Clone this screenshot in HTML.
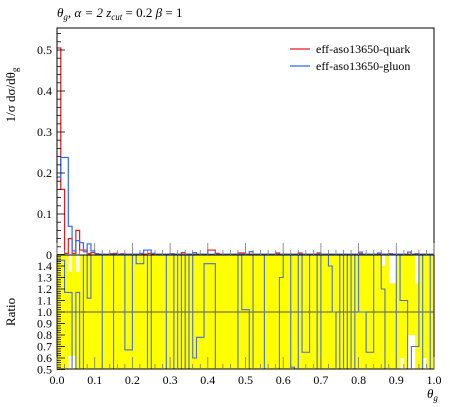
<!DOCTYPE html>
<html><head><meta charset="utf-8">
<style>
html,body{margin:0;padding:0;background:#fff;}
svg{display:block;font-family:"Liberation Serif",serif;}
</style></head>
<body>
<svg id="chart" width="450" height="407" viewBox="0 0 450 407">
  <text x="57" y="17" font-size="13" font-style="italic">θ<tspan font-size="9" dy="3">g</tspan><tspan dy="-3">, α = 2 z</tspan><tspan font-size="9" dy="3">cut</tspan><tspan dy="-3" font-style="normal"> = 0.2 </tspan><tspan>β</tspan><tspan font-style="normal"> = 1</tspan></text>
  <text transform="translate(15,95) rotate(-90)" text-anchor="middle" font-size="13">1/σ dσ/dθ<tspan font-size="9" dy="3">g</tspan></text>
  <text transform="translate(15,312) rotate(-90)" text-anchor="middle" font-size="13">Ratio</text>
  <text x="427" y="398" font-size="13" font-style="italic">θ<tspan font-size="9" dy="3">g</tspan></text>
  <g id="ratioG"></g>
  <g id="mainG"></g>
  <g>
    <line x1="290" y1="49" x2="310" y2="49" stroke="#e41a1c" stroke-width="1.3"/>
    <text x="316" y="53" font-size="12">eff-aso13650-quark</text>
    <line x1="290" y1="66" x2="310" y2="66" stroke="#3366ff" stroke-width="1.3"/>
    <text x="316" y="70" font-size="12">eff-aso13650-gluon</text>
  </g>
</svg>
<script>
const quark = [0.505,0.16,0.004,0.04,0.004,0.06,0.012,0.012,0.003,0.006,0.003,0.002,0.002,0.002,0.003,0.004,0.002,0.003,0.002,0.002,0.002,0.002,0.003,0.002,0.004,0.002,0.002,0.002,0.002,0.002,0.003,0.002,0.002,0.006,0.002,0.002,0.002,0.002,0.002,0.002,0.012,0.012,0.004,0.002,0.002,0.002,0.002,0.002,0.005,0.005,0.002,0.002,0.002,0.002,0.002,0.002,0.002,0.002,0.005,0.002,0.002,0.002,0.002,0.002,0.005,0.002,0.002,0.002,0.002,0.005,0.002,0.002,0.002,0.002,0.002,0.002,0.002,0.002,0.002,0.002,0.003,0.002,0.002,0.002,0.002,0.002,0.002,0.002,0.003,0.002,0.002,0.002,0.002,0.002,0.002,0.003,0.002,0.002,0.002,0.002];
const gluon = [0.19,0.238,0.238,0.07,0.01,0.035,0.03,0.008,0.027,0.01,0.003,0.002,0.002,0.002,0.002,0.002,0.002,0.002,0.002,0.002,0.002,0.002,0.004,0.012,0.012,0.004,0.002,0.002,0.002,0.002,0.002,0.002,0.002,0.002,0.002,0.002,0.006,0.002,0.002,0.002,0.002,0.002,0.002,0.002,0.002,0.002,0.002,0.002,0.002,0.002,0.002,0.008,0.002,0.002,0.002,0.002,0.002,0.002,0.002,0.002,0.002,0.002,0.002,0.002,0.002,0.002,0.002,0.002,0.002,0.002,0.002,0.002,0.002,0.002,0.002,0.002,0.002,0.002,0.002,0.002,0.007,0.002,0.002,0.002,0.002,0.005,0.002,0.002,0.002,0.002,0.002,0.002,0.002,0.007,0.002,0.002,0.002,0.002,0.002,0.002];
const ratio = [1.45,1.45,1.17,1.17,0.3,1.17,0.3,2,1.12,2,2,2,0.3,0.3,0.3,2,2,2,0.67,0.67,2,1.42,1.42,2,0.3,2,2,2,2,0.3,0.3,2,0.3,2,0.3,2,0.6,0.78,0.78,1.42,1.42,1.42,0.3,0.3,0.3,0.3,0.3,0.3,2,1.02,1.02,0.3,2,2,2,0.3,0.3,0.3,0.3,1.3,2,2,0.52,0.3,2,0.65,0.65,2,2,0.3,2,2,1.4,1.0,0.3,2,0.3,2,0.3,2,1.0,1.0,0.65,0.65,2,2,1.2,0.3,0.3,0.3,2,1.1,1.1,0.3,0.7,0.7,2,0.3,0.3,2];
const bandHi = [1.5,1.5,1.5,1.35,1.5,1.35,1.5,1.5,1.5,1.5,1.5,1.5,1.5,1.5,1.5,1.5,1.5,1.5,1.5,1.5,1.5,1.5,1.5,1.5,1.5,1.5,1.5,1.5,1.5,1.5,1.5,1.5,1.5,1.5,1.5,1.5,1.5,1.5,1.5,1.5,1.5,1.5,1.5,1.5,1.5,1.5,1.5,1.5,1.5,1.5,1.5,1.5,1.5,1.5,1.5,1.5,1.5,1.5,1.5,1.5,1.5,1.5,1.5,1.5,1.5,1.5,1.5,1.5,1.5,1.5,1.5,1.5,1.5,1.5,1.5,1.5,1.5,1.5,1.5,1.5,1.5,1.5,1.5,1.5,1.5,1.5,1.4,1.5,1.25,1.25,1.5,1.5,1.5,1.5,1.5,1.25,1.5,1.5,1.5,1.5];
const bandLo = [0.5,0.5,0.5,0.62,0.62,0.5,0.5,0.5,0.5,0.5,0.5,0.5,0.5,0.5,0.5,0.5,0.5,0.5,0.5,0.5,0.5,0.5,0.5,0.5,0.5,0.5,0.5,0.5,0.5,0.5,0.5,0.5,0.5,0.5,0.5,0.5,0.5,0.5,0.5,0.5,0.5,0.5,0.5,0.5,0.5,0.5,0.5,0.5,0.5,0.5,0.5,0.5,0.5,0.5,0.5,0.5,0.5,0.5,0.5,0.5,0.5,0.5,0.5,0.5,0.5,0.5,0.5,0.5,0.5,0.5,0.5,0.5,0.5,0.5,0.5,0.5,0.5,0.5,0.5,0.5,0.5,0.5,0.5,0.5,0.5,0.5,0.5,0.5,0.5,0.5,0.5,0.6,0.5,0.8,0.8,0.5,0.5,0.6,0.5,0.5];
const xTicks = [0,0.1,0.2,0.3,0.4,0.5,0.6,0.7,0.8,0.9,1.0];
const yTicks = [0,0.1,0.2,0.3,0.4,0.5];
const rTicks = [0.5,0.6,0.7,0.8,0.9,1.0,1.1,1.2,1.3,1.4];

const NS="http://www.w3.org/2000/svg";
const X0=57,X1=434, TOP=28, MB=255, RB=369;
const xs=v=>X0+(X1-X0)*v;
const ys=v=>MB-410*v;
const yr=v=>312-115*(v-1);
function mk(tag,attrs,parent){const e=document.createElementNS(NS,tag);for(const k in attrs)e.setAttribute(k,attrs[k]);parent.appendChild(e);return e;}
const mainG=document.getElementById('mainG'), ratioG=document.getElementById('ratioG');
const nb=quark.length, bw=1/nb;

const defs=mk('defs',{},document.getElementById('chart'));
const cp=mk('clipPath',{id:'rclip'},defs);
mk('rect',{x:X0,y:MB,width:X1-X0,height:RB-MB},cp);

for(let i=0;i<nb;i++){
  const hi=Math.min(bandHi[i],1.5), lo=Math.max(bandLo[i],0.5);
  const r=mk('rect',{x:xs(i*bw),y:yr(hi),width:xs((i+1)*bw)-xs(i*bw)+0.3,height:yr(lo)-yr(hi),fill:'#ffff00'},ratioG);
  
  
}
const ol=mk('line',{x1:X0,x2:X1,y1:yr(1),y2:yr(1),stroke:'#555',"stroke-width":1},ratioG);


function stepPath(arr,fx,fy){let d='';for(let i=0;i<arr.length;i++){const y=fy(arr[i]);d+=(i?'L':'M')+fx(i*bw)+','+y+'L'+fx((i+1)*bw)+','+y;}return d;}
const rp=mk('path',{d:stepPath(ratio,xs,v=>yr(Math.max(0.3,Math.min(2,v)))),fill:'none',stroke:'#4a6fd8',"stroke-width":1.1,"clip-path":'url(#rclip)'},ratioG);



const qp=mk('path',{d:stepPath(quark,xs,ys),fill:'none',stroke:'#e41a1c',"stroke-width":1.2},mainG);


const gp=mk('path',{d:stepPath(gluon,xs,ys),fill:'none',stroke:'#3366ff',"stroke-width":1.2},mainG);



const f1=mk('rect',{x:X0,y:TOP,width:X1-X0,height:MB-TOP,fill:'none',stroke:'#000',"stroke-width":1},mainG);


const f2=mk('rect',{x:X0,y:MB,width:X1-X0,height:RB-MB,fill:'none',stroke:'#000',"stroke-width":1},ratioG);



for(let k=0;k<=50;k++){
  const v=k/50, x=xs(v), major=k%5===0;
  const len=major?12:5;
  mk('line',{x1:x,x2:x,y1:MB,y2:MB-len,stroke:'#777',"stroke-width":0.8},mainG);
  mk('line',{x1:x,x2:x,y1:RB,y2:RB-len,stroke:'#777',"stroke-width":0.8},ratioG);
}
xTicks.forEach(v=>{
  const t=mk('text',{x:xs(v),y:RB+15,"text-anchor":"middle","font-size":12},ratioG);
  t.textContent=v.toFixed(1);
  
  
});
for(let k=0;k<=27;k++){
  const v=k*0.02, y=ys(v), major=k%5===0;
  mk('line',{x1:X0,x2:X0+(major?8:4),y1:y,y2:y,stroke:'#000',"stroke-width":0.8},mainG);
}
yTicks.forEach(v=>{
  const t=mk('text',{x:X0-5,y:ys(v)+4,"text-anchor":"end","font-size":12},mainG);
  t.textContent=v===0?'0':v.toFixed(1);
  
  
});
for(let k=0;k<=50;k++){
  const v=0.5+k*0.02, y=yr(v);
  mk('line',{x1:X0,x2:X0+(k%5===0?8:4),y1:y,y2:y,stroke:'#000',"stroke-width":0.8},ratioG);
}
rTicks.forEach(v=>{
  const t=mk('text',{x:X0-5,y:yr(v)+4,"text-anchor":"end","font-size":12},ratioG);
  t.textContent=v.toFixed(1);
  
  
});
</script>
</body></html>
